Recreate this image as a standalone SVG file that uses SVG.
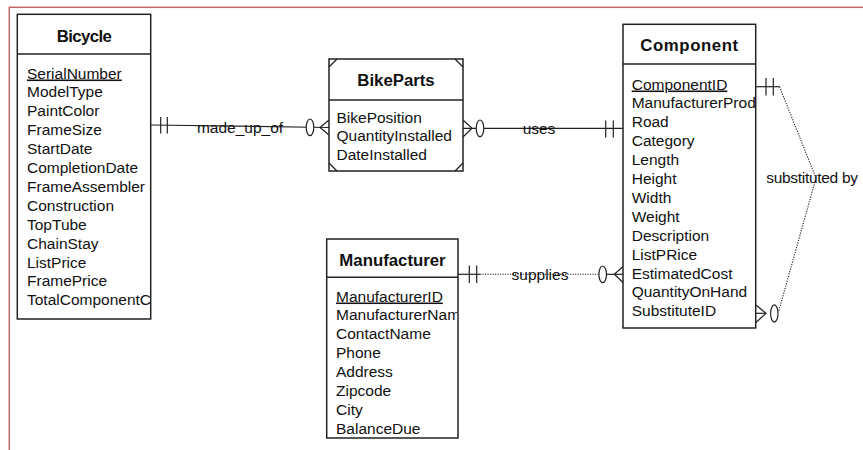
<svg xmlns="http://www.w3.org/2000/svg" width="863" height="450" viewBox="0 0 863 450">
<style>
.box{fill:#fff;stroke:#222;stroke-width:1.5}
.div{stroke:#222;stroke-width:1.5}
.hdr{font-family:"Liberation Sans",Arial,sans-serif;font-size:16.8px;font-weight:bold;fill:#111;text-anchor:middle}
.att{font-family:"Liberation Sans",Arial,sans-serif;font-size:15.5px;fill:#111}
.pk{text-decoration:underline}
.lbl{font-family:"Liberation Sans",Arial,sans-serif;font-size:15.5px;fill:#111;text-anchor:middle}
.ln{stroke:#222;stroke-width:1.2;fill:none}
.dot{stroke:#222;stroke-width:1.1;fill:none;stroke-dasharray:1.2 1.3}
.zero{stroke:#222;stroke-width:1.2;fill:#fff}
</style>
<defs>
<clipPath id="cBic"><rect x="17" y="14" width="133" height="305"/></clipPath>
<clipPath id="cCmp"><rect x="623" y="24" width="132" height="304"/></clipPath>
<clipPath id="cMan"><rect x="327" y="239" width="130" height="199"/></clipPath>
</defs>
<rect x="9.3" y="7.3" width="900" height="500" fill="none" stroke="#c06868" stroke-width="1.5"/>

<g id="connectors">
  <!-- made_up_of -->
  <line class="ln" x1="151" y1="125" x2="329" y2="127.5"/>
  <line class="ln" x1="160.7" y1="117" x2="160.7" y2="133.5"/>
  <line class="ln" x1="167.3" y1="117" x2="167.3" y2="133.5"/>
  <ellipse class="zero" cx="310" cy="127.3" rx="3.8" ry="8.3"/>
  <polyline class="ln" points="329,120 320,127.5 329,135"/>
  <text class="lbl" x="240" y="132.5">made_up_of</text>
  <!-- uses -->
  <line class="ln" x1="463" y1="128.3" x2="623" y2="128.3"/>
  <polyline class="ln" points="463,120 472,128.3 463,137"/>
  <ellipse class="zero" cx="480" cy="128.3" rx="3.8" ry="8.3"/>
  <line class="ln" x1="605.7" y1="120.5" x2="605.7" y2="137.5"/>
  <line class="ln" x1="613.3" y1="120.5" x2="613.3" y2="137.5"/>
  <text class="lbl" x="539" y="133.5">uses</text>
  <!-- supplies -->
  <line class="ln" x1="458" y1="274.3" x2="480" y2="274.3"/>
  <line class="dot" x1="480" y1="274.3" x2="599" y2="274.3"/>
  <line class="ln" x1="606.5" y1="274.3" x2="623" y2="274.3"/>
  <line class="ln" x1="469.3" y1="265.5" x2="469.3" y2="283"/>
  <line class="ln" x1="476.7" y1="265.5" x2="476.7" y2="283"/>
  <ellipse class="zero" cx="602.7" cy="274.3" rx="3.8" ry="8.3"/>
  <polyline class="ln" points="623,266.5 614.3,274.3 623,282.5"/>
  <text class="lbl" x="540" y="279.5">supplies</text>
  <!-- substituted by -->
  <line class="ln" x1="756" y1="86.7" x2="779.5" y2="86.7"/>
  <line class="ln" x1="766" y1="78" x2="766" y2="95.5"/>
  <line class="ln" x1="773.3" y1="78" x2="773.3" y2="95.5"/>
  <polyline class="dot" points="779.5,86.7 816,178 778.5,312"/>
  <line class="ln" x1="756" y1="313.3" x2="766" y2="313.3"/>
  <polyline class="ln" points="756,305 766,313.3 756,322.5"/>
  <ellipse class="zero" cx="774.3" cy="313.5" rx="3.7" ry="8.6"/>
  <text class="lbl" x="812" y="182.5" letter-spacing="-0.3">substituted by</text>
</g>

<g id="Bicycle">
  <rect class="box" x="17.3" y="14.3" width="133.4" height="304.7"/>
  <line class="div" x1="17.3" y1="54" x2="150.7" y2="54"/>
  <text class="hdr" x="84" y="42" letter-spacing="-0.6">Bicycle</text>
  <g clip-path="url(#cBic)">
    <text class="att" x="27" y="78.5"><tspan class="pk">SerialNumber</tspan><tspan x="27" dy="18.9">ModelType</tspan><tspan x="27" dy="18.9">PaintColor</tspan><tspan x="27" dy="18.9">FrameSize</tspan><tspan x="27" dy="18.9">StartDate</tspan><tspan x="27" dy="18.9">CompletionDate</tspan><tspan x="27" dy="18.9">FrameAssembler</tspan><tspan x="27" dy="18.9">Construction</tspan><tspan x="27" dy="18.9">TopTube</tspan><tspan x="27" dy="18.9">ChainStay</tspan><tspan x="27" dy="18.9">ListPrice</tspan><tspan x="27" dy="18.9">FramePrice</tspan><tspan x="27" dy="18.9">TotalComponentCost</tspan></text>
  </g>
</g>

<g id="BikeParts">
  <rect class="box" x="329" y="59" width="134" height="112"/>
  <line class="div" x1="329" y1="100" x2="463" y2="100"/>
  <polyline class="ln" points="329,67 337,59"/>
  <polyline class="ln" points="455,59 463,67"/>
  <polyline class="ln" points="329,163 337,171"/>
  <polyline class="ln" points="455,171 463,163"/>
  <text class="hdr" x="396" y="86">BikeParts</text>
  <text class="att" x="336.5" y="122.5">BikePosition<tspan x="336.5" dy="18.9">QuantityInstalled</tspan><tspan x="336.5" dy="18.9">DateInstalled</tspan></text>
</g>

<g id="Component">
  <rect class="box" x="623" y="24.3" width="132.7" height="303.7"/>
  <line class="div" x1="623" y1="64" x2="755.7" y2="64"/>
  <text class="hdr" x="689.5" y="51" letter-spacing="0.6">Component</text>
  <g clip-path="url(#cCmp)">
    <text class="att" x="631.7" y="89.5"><tspan class="pk">ComponentID</tspan><tspan x="631.7" dy="18.9">ManufacturerProductID</tspan><tspan x="631.7" dy="18.9">Road</tspan><tspan x="631.7" dy="18.9">Category</tspan><tspan x="631.7" dy="18.9">Length</tspan><tspan x="631.7" dy="18.9">Height</tspan><tspan x="631.7" dy="18.9">Width</tspan><tspan x="631.7" dy="18.9">Weight</tspan><tspan x="631.7" dy="18.9">Description</tspan><tspan x="631.7" dy="18.9">ListPRice</tspan><tspan x="631.7" dy="18.9">EstimatedCost</tspan><tspan x="631.7" dy="18.9">QuantityOnHand</tspan><tspan x="631.7" dy="18.9">SubstituteID</tspan></text>
  </g>
</g>

<g id="Manufacturer">
  <rect class="box" x="326.7" y="239" width="131.3" height="199"/>
  <line class="div" x1="326.7" y1="277.3" x2="458" y2="277.3"/>
  <text class="hdr" x="392.5" y="266">Manufacturer</text>
  <g clip-path="url(#cMan)">
    <text class="att" x="336" y="301.5"><tspan class="pk">ManufacturerID</tspan><tspan x="336" dy="18.9">ManufacturerName</tspan><tspan x="336" dy="18.9">ContactName</tspan><tspan x="336" dy="18.9">Phone</tspan><tspan x="336" dy="18.9">Address</tspan><tspan x="336" dy="18.9">Zipcode</tspan><tspan x="336" dy="18.9">City</tspan><tspan x="336" dy="18.9">BalanceDue</tspan></text>
  </g>
</g>
</svg>
